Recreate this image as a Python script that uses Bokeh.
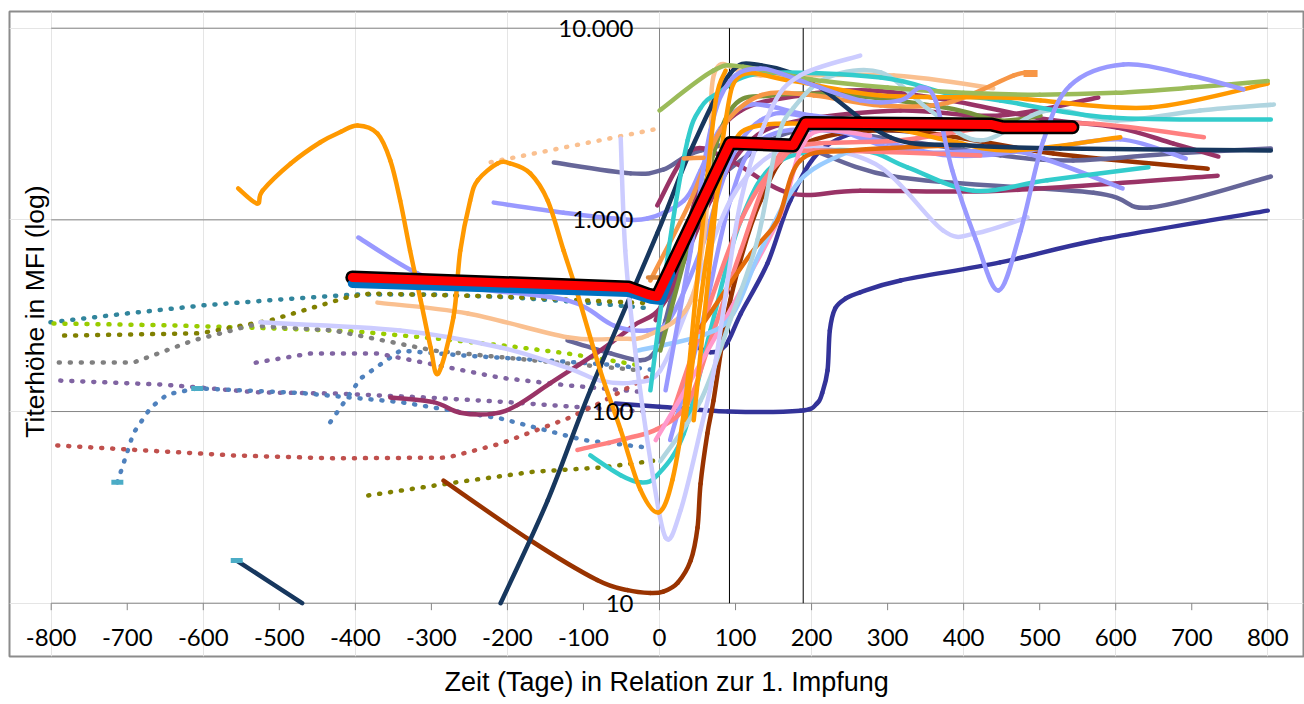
import math
from bokeh.plotting import figure
from bokeh.models import Range1d, Title
from bokeh.core.properties import value
from bokeh.embed import file_html
from bokeh.resources import INLINE

# ------------------------------------------------------------------ data
x_ticks = list(range(-800, 801, 100))
y_ticks = [10, 100, 1000, 10000]
y_tick_labels = ["10", "100", "1.000", "10.000"]
impf_days = [92, 189]
x_title = "Zeit (Tage) in Relation zur 1. Impfung"
y_title = "Titerhöhe in MFI (log)"

# highlighted summary lines
mean_x = [-404, -41, -15, -3, 93, 176, 192, 437, 452, 543]
mean_y = [501, 444, 408, 398, 2520, 2445, 3200, 3140, 3040, 3040]
median_x = [-404, -41, -12, 2, 15]
median_y = [466, 418, 385, 380, 520]

# dotted series (pre-vaccination histories)
teal_dot_x = [-801, -700, -600, -500, -400, -300, -200, -100, -10]
teal_dot_y = [292, 325, 358, 384, 408, 408, 395, 371, 345]
lime_dot_x = [-797, -650, -502, -400, -297, -200, -121, -25]
lime_dot_y = [288, 282, 271, 262, 241, 220, 201, 174]
olive_dot_x = [-783, -604, -512, -410, -380, -209, -42, -12]
olive_dot_y = [249, 256, 299, 395, 413, 398, 371, 367]
gray_dot_x = [-790, -692, -613, -538, -429, -297, -166, -25]
gray_dot_y = [180, 180, 235, 281, 265, 208, 185, 164]
purple_dot_x = [-788, -650, -530, -420, -300, -200, -100, -20]
purple_dot_y = [145, 138, 126, 124, 118, 112, 105, 100]
blue_dot_x = [-713, -692, -669, -647, -608, -472, -341, -209, -100, -18]
blue_dot_y = [42.7, 77, 105, 123, 132, 125, 112, 92, 71, 65]
blue2_dot_x = [-433, -393, -341, -250, -150, -60, -10]
blue2_dot_y = [88, 149, 208, 195, 185, 175, 165]
purple2_dot_x = [-531, -459, -371, -209, -121, -18]
purple2_dot_y = [180, 201, 201, 150, 137, 126]
red_dot_x = [-792, -560, -429, -279, -209, -121, -78, -12]
red_dot_y = [66.5, 59, 57, 57.5, 68, 92, 111, 154]
olive2_dot_x = [-383, -252, -166, -78, -5]
olive2_dot_y = [36.5, 43.6, 48.5, 51, 55.5]
peach_dot_x = [-222, 0]
peach_dot_y = [2000, 3000]
cap_x = [-713, -608, -556]
cap_y = [42.7, 132, 16.7]

# solid series
orange_loop_x = [-554, -529, -522, -485, -446, -419, -397, -371, -354, -341, -328, -314, -301, -291,
                 -271, -262, -249, -239, -213, -196, -170, -147, -126, -108, -78, -51, -25, -1, 17,
                 34, 47, 60, 74, 87]
orange_loop_y = [1459, 1217, 1420, 1967, 2540, 2880, 3105, 2820, 2040, 1260, 690, 380, 216, 158,
                 310, 690, 1260, 1610, 1967, 1967, 1748, 1260, 690, 413, 164, 80, 39, 29.8, 44,
                 114, 380, 1260, 4200, 6010]
green_x = [0, 71, 110, 200, 300, 400, 500, 600, 700, 800]
green_y = [3720, 6010, 6300, 5400, 4900, 4600, 4500, 4600, 4900, 5300]
orange2_x = [45, 71, 87, 107, 172, 291, 452, 501, 646, 800]
orange2_y = [90, 910, 3300, 5670, 5330, 4460, 4350, 4200, 3860, 5145]
peri_wave_x = [8, 41, 67, 93, 133, 185, 264, 317, 343, 363, 385, 416, 446, 475, 505, 540, 610, 698, 768]
peri_wave_y = [129, 690, 2930, 5330, 6170, 5330, 4200, 4200, 4910, 4200, 1810, 790, 428, 880, 2600,
               5020, 6470, 5670, 4790]
lightblue_x = [1, 54, 93, 129, 155, 176, 221, 291, 356, 422, 510, 602, 711, 808]
lightblue_y = [55, 114, 299, 790, 2600, 3830, 5530, 5880, 3720, 2600, 3720, 3300, 3720, 4000]
teal_x = [-12, 14, 37, 54, 76, 133, 291, 379, 448, 593, 804]
teal_y = [129, 790, 2600, 3830, 4560, 5800, 5530, 4560, 4200, 3420, 3340]
teal2_x = [-91, -51, -25, -3, 32, 67, 107, 159, 264, 326, 413, 510, 643]
teal2_y = [59, 46.5, 42.7, 46.5, 76.8, 265, 993, 2040, 2300, 1880, 1420, 1610, 1880]
plum_x = [-354, -297, -262, -218, -187, -143, -78, -34, 8, 67, 120, 185, 317, 448, 577]
plum_y = [118.5, 112, 98.6, 97.5, 108, 141, 208, 281, 380, 1260, 2600, 3300, 3720, 3500, 4350]
salmon_x = [-108, -42, -3, 37, 67, 107, 146, 185, 317, 448, 571, 716]
salmon_y = [63, 72.6, 81, 110, 235, 690, 1810, 2445, 2600, 3100, 3170, 2700]
brown_x = [-284, -170, -82, -42, -12, 5, 24, 41, 50, 54, 63, 71, 93, 133, 185, 317, 518, 721]
brown_y = [43.6, 21.3, 13.2, 11.7, 11.3, 11.5, 12.8, 16.7, 24.8, 42, 77, 114, 380, 1260, 2445,
           2930, 2220, 1850]
plum2_x = [-5, 28, 67, 107, 185, 277, 383, 501, 602, 676, 735]
plum2_y = [300, 690, 2300, 3720, 4460, 4730, 4200, 3380, 3030, 2500, 2140]
navy_x = [-209, -147, -91, -3, 41, 93, 133, 203, 304, 400, 527, 804]
navy_y = [10, 34.4, 129, 849, 2300, 5800, 6400, 5140, 2690, 2450, 2360, 2300]
navy_short_x = [-556, -470]
navy_short_y = [16.7, 10]
slate_x = [-121, -64, -25, -5, 8, 28, 54, 107, 185, 317, 448, 544, 676, 804]
slate_y = [235, 201, 185, 208, 299, 614, 1260, 2040, 2930, 2600, 2170, 2040, 2220, 2360]
orange3_x = [34, 54, 74, 93, 133, 291, 379, 462, 606]
orange3_y = [90, 380, 1260, 2300, 3120, 3030, 2600, 2300, 2700]
peri2_x = [14, 54, 93, 133, 225, 379, 505, 606, 692]
peri2_y = [71, 265, 1260, 2600, 2930, 2170, 2360, 2630, 2090]
plum3_x = [-3, 41, 93, 172, 264, 448, 734]
plum3_y = [1190, 2300, 2040, 1375, 1420, 1420, 1700]
peri3_x = [-396, -318, -252, -121, -60, -16, 14, 54, 93, 133, 185, 317, 448, 505, 609]
peri3_y = [809, 525, 444, 380, 281, 265, 306, 690, 2040, 3300, 3500, 2300, 2300, 2090, 1460]
peri4_x = [-218, -126, -60, -16, 32, 54, 80, 120, 200, 300]
peri4_y = [1230, 1090, 1016, 1016, 1260, 1810, 3000, 4000, 3500, 3200]
slate2_x = [-139, -38, 5, 54, 159, 308, 571, 646, 804]
slate2_y = [1992, 1748, 1830, 2300, 2600, 1683, 1386, 1161, 1683]
darkblue_x = [-58, 0, 90, 185, 207, 214, 221, 224, 231, 245, 264, 317, 448, 580, 800]
darkblue_y = [110, 106, 100, 101, 110, 125, 164, 265, 345, 389, 419, 483, 600, 790, 1117]
darkblue2_x = [41, 67, 87, 107, 142, 172, 212, 277, 383]
darkblue2_y = [226, 204, 222, 325, 593, 1260, 2300, 2930, 2750]
lav_x = [-525, -341, -209, -121, -78, -34, 1, 41, 93, 146, 203, 291, 373, 416, 484]
lav_y = [292, 265, 216, 169, 145, 142, 164, 380, 1260, 2170, 2390, 1880, 880, 850, 1030]
lav2_x = [-51, -45, -32, -12, 8, 28, 54, 74, 107, 146, 185, 264]
lav2_y = [2658, 690, 208, 56, 22, 30.7, 80, 185, 1260, 3720, 5670, 7200]
peach_x = [-371, -252, -121, -55, -16, 37, 58, 67, 75, 133, 308, 439]
peach_y = [370, 325, 244, 240, 249, 350, 790, 2300, 6170, 5670, 5670, 4860]
lorange_x = [-12, 41, 80, 133, 203, 291, 379, 466, 488]
lorange_y = [483, 1260, 2930, 4460, 4460, 3950, 4080, 5670, 5800]
salmon2_x = [14, 54, 107, 159, 203, 422]
salmon2_y = [90, 265, 993, 2040, 2300, 2170]
pink_x = [-5, 41, 107, 159, 185, 212, 277]
pink_y = [71, 145, 428, 1060, 2300, 2930, 2750]
dorange_x = [54, 120, 155, 185, 251, 383]
dorange_y = [275, 666, 993, 2040, 2300, 2445]
olive_x = [1, 54, 93, 146, 251, 379, 448, 501]
olive_y = [208, 1260, 3720, 4460, 4460, 3830, 3300, 3500]
sky_x = [-29, 58, 97, 133, 185, 251]
sky_y = [208, 251, 325, 690, 1610, 2300]
stub_x = [-15, 3]
stub_y = [500, 500]
stub2_x = [32, 58]
stub2_y = [2090, 2110]

# ------------------------------------------------------------------ layout
W, H = 1304, 704
FR_L, FR_R, FR_T, FR_B = 9, 1303, 11, 656            # outer chart frame (px)
PA_L, PA_R, PA_T, PA_B = 50.7, 1267.3, 27.7, 602.7   # plot area (px)
X_MIN, X_MAX = x_ticks[0], x_ticks[-1]
Y_MIN, Y_MAX = y_ticks[0], y_ticks[-1]
sx = (PA_R - PA_L) / (X_MAX - X_MIN)
sy = (PA_B - PA_T) / (math.log10(Y_MAX) - math.log10(Y_MIN))
x_start = X_MIN - (PA_L - FR_L) / sx
x_end = X_MAX + (FR_R - PA_R) / sx
y_end = 10 ** (math.log10(Y_MAX) + (PA_T - FR_T) / sy)
y_start = 10 ** (math.log10(Y_MIN) - (FR_B - PA_B) / sy)


def px_to_x(px):
    return X_MIN + (px - PA_L) / sx


def py_to_y(py):
    return 10 ** (math.log10(Y_MAX) - (py - PA_T) / sy)


def smooth_segments(xs, ys):
    """Excel-style smoothed line: cubic Bezier segments through the data points
    (Catmull-Rom control points, computed in x / log10(y) space)."""
    ly = [math.log10(v) for v in ys]
    npts = len(xs)
    seg = dict(x0=[], y0=[], x1=[], y1=[], cx0=[], cy0=[], cx1=[], cy1=[])
    for i in range(npts - 1):
        a = max(i - 1, 0)
        d = min(i + 2, npts - 1)
        c0x = xs[i] + (xs[i + 1] - xs[a]) / 6.0
        c0y = ly[i] + (ly[i + 1] - ly[a]) / 6.0
        c1x = xs[i + 1] - (xs[d] - xs[i]) / 6.0
        c1y = ly[i + 1] - (ly[d] - ly[i]) / 6.0
        seg["x0"].append(xs[i]); seg["y0"].append(ys[i])
        seg["x1"].append(xs[i + 1]); seg["y1"].append(ys[i + 1])
        seg["cx0"].append(c0x); seg["cy0"].append(10 ** c0y)
        seg["cx1"].append(c1x); seg["cy1"].append(10 ** c1y)
    return seg


p = figure(width=W, height=H, x_range=Range1d(x_start, x_end), y_range=Range1d(y_start, y_end),
           y_axis_type="log", x_axis_location=None, y_axis_location=None,
           output_backend="svg", toolbar_location=None,
           min_border_left=FR_L, min_border_right=W - FR_R, min_border_top=FR_T,
           min_border_bottom=0)
p.outline_line_color = "#8C8C8C"
p.outline_line_width = 2
p.background_fill_color = "white"
p.border_fill_color = "white"

GRID = "#868686"
n = len(y_ticks)
p.segment(x0=[X_MIN] * n, x1=[X_MAX] * n, y0=y_ticks, y1=y_ticks, line_color=GRID, line_width=1)
p.segment(x0=[0], x1=[0], y0=[Y_MIN], y1=[Y_MAX], line_color=GRID, line_width=1)
tick_end = Y_MIN / 10 ** (7 / sy)
m = len(x_ticks)
p.segment(x0=x_ticks, x1=x_ticks, y0=[Y_MIN] * m, y1=[tick_end] * m, line_color=GRID, line_width=1)
k = len(impf_days)
p.segment(x0=impf_days, x1=impf_days, y0=[Y_MIN] * k, y1=[Y_MAX] * k, line_color="#000000", line_width=1)

dotted = [
    (teal_dot_x, teal_dot_y, "#31859C"),
    (lime_dot_x, lime_dot_y, "#99CC00"),
    (olive_dot_x, olive_dot_y, "#808000"),
    (gray_dot_x, gray_dot_y, "#808080"),
    (purple_dot_x, purple_dot_y, "#8064A2"),
    (blue_dot_x, blue_dot_y, "#4F81BD"),
    (blue2_dot_x, blue2_dot_y, "#4F81BD"),
    (purple2_dot_x, purple2_dot_y, "#8064A2"),
    (red_dot_x, red_dot_y, "#C0504D"),
    (olive2_dot_x, olive2_dot_y, "#808000"),
    (peach_dot_x, peach_dot_y, "#FAC090"),
]
for xs, ys, c in dotted:
    p.line(xs, ys, line_color=c, line_width=4.5, line_dash="1 10", line_cap="round")

solid = [
    (navy_short_x, navy_short_y, "#17375E"),
    (darkblue_x, darkblue_y, "#333399"),
    (darkblue2_x, darkblue2_y, "#333399"),
    (brown_x, brown_y, "#993300"),
    (slate2_x, slate2_y, "#666699"),
    (slate_x, slate_y, "#666699"),
    (plum3_x, plum3_y, "#993366"),
    (plum_x, plum_y, "#993366"),
    (plum2_x, plum2_y, "#993366"),
    (peri3_x, peri3_y, "#9999FF"),
    (peri4_x, peri4_y, "#9999FF"),
    (peri2_x, peri2_y, "#9999FF"),
    (lav_x, lav_y, "#CCCCFF"),
    (teal2_x, teal2_y, "#33CCCC"),
    (salmon_x, salmon_y, "#FF8080"),
    (salmon2_x, salmon2_y, "#FF8080"),
    (pink_x, pink_y, "#FF99CC"),
    (sky_x, sky_y, "#99CCFF"),
    (dorange_x, dorange_y, "#E46C0A"),
    (orange3_x, orange3_y, "#FF9900"),
    (olive_x, olive_y, "#77933C"),
    (peach_x, peach_y, "#FAC090"),
    (lorange_x, lorange_y, "#F79646"),
    (navy_x, navy_y, "#17375E"),
    (lightblue_x, lightblue_y, "#B0D5E0"),
    (teal_x, teal_y, "#33CCCC"),
    (orange2_x, orange2_y, "#FF9900"),
    (green_x, green_y, "#9BBB59"),
    (peri_wave_x, peri_wave_y, "#9999FF"),
    (lav2_x, lav2_y, "#CCCCFF"),
    (orange_loop_x, orange_loop_y, "#FF9900"),
    (stub_x, stub_y, "#D9853B"),
    (stub2_x, stub2_y, "#F79646"),
]
for xs, ys, c in solid:
    seg = smooth_segments(xs, ys)
    p.bezier(x0=seg["x0"], y0=seg["y0"], x1=seg["x1"], y1=seg["y1"],
             cx0=seg["cx0"], cy0=seg["cy0"], cx1=seg["cx1"], cy1=seg["cy1"],
             line_color=c, line_width=4.5, line_cap="round")

p.rect(x=cap_x, y=cap_y, width=12, height=5, width_units="screen", height_units="screen",
       fill_color="#4BACC6", line_color=None)
p.rect(x=[lorange_x[-1]], y=[lorange_y[-1]], width=14, height=7, width_units="screen",
       height_units="screen", fill_color="#F79646", line_color=None)

# highlighted mean line
p.line(mean_x, mean_y, line_color="#000000", line_width=14, line_join="round", line_cap="round")
p.line(median_x, median_y, line_color="#0070C0", line_width=9, line_join="round", line_cap="round")
p.line(mean_x, mean_y, line_color="#FF0000", line_width=9, line_join="round", line_cap="round")

# tick labels
TICK_FONT = value("Lato")
p.text(x=x_ticks, y=[Y_MIN] * m, text=[str(t) for t in x_ticks], y_offset=34,
       text_align="center", text_baseline="middle", text_font=TICK_FONT,
       text_font_size="24px", text_color="#000000")
p.text(x=[0] * n, y=y_ticks, text=y_tick_labels, x_offset=-26,
       text_align="right", text_baseline="middle", text_font=TICK_FONT,
       text_font_size="24px", text_color="#000000")

# axis titles
p.text(x=[px_to_x(34)], y=[py_to_y(311)], text=[y_title], angle=math.pi / 2,
       text_align="center", text_baseline="middle", text_font=value("Liberation Sans"),
       text_font_size="26.5px", text_color="#000000")
p.add_layout(Title(text=x_title, align="left", offset=444 - FR_L, text_font="Liberation Sans",
                   text_font_size="27px", text_font_style="normal", text_color="#000000",
                   standoff=16), "below")

open("out.html", "w").write(file_html(p, INLINE))
